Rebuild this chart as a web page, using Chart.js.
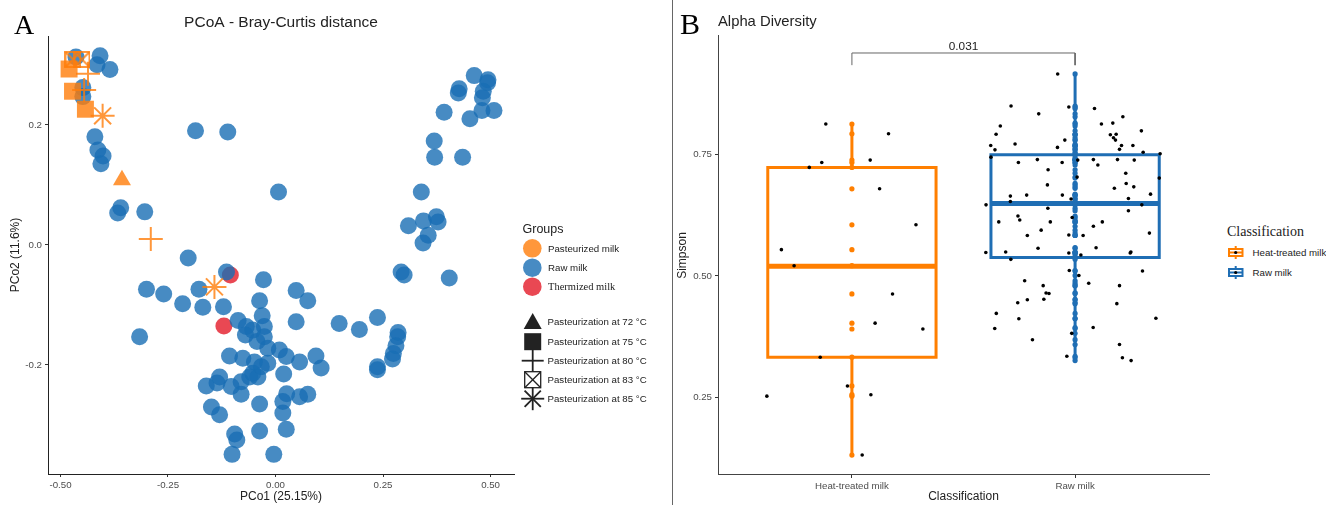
<!DOCTYPE html>
<html><head><meta charset="utf-8">
<script src="https://cdn.jsdelivr.net/npm/chart.js@4.4.1/dist/chart.umd.min.js"></script>
<style>
body{margin:0;width:1326px;height:505px;background:#fff;position:relative;overflow:hidden;font-family:"Liberation Sans",Arial,sans-serif;}
canvas{position:absolute;top:0;}
#cA{left:0;}
#cB{left:673px;}
.t{position:absolute;white-space:nowrap;color:#222;}
.s9{font-size:9.7px;line-height:11px;color:#222;}
.serif{font-family:"Liberation Serif","Times New Roman",serif;}
</style></head><body>
<canvas id="cA" width="528" height="505"></canvas>
<canvas id="cB" width="545" height="505"></canvas>
<div style="position:absolute;left:672px;top:0;width:1px;height:505px;background:#666"></div>
<div class="t serif" style="left:14px;top:9px;font-size:28px;line-height:32px;color:#000">A</div>
<div class="t serif" style="left:680px;top:7px;font-size:30px;line-height:34px;color:#000">B</div>

<!-- Panel A legend -->
<svg style="position:absolute;left:510px;top:215px" width="170" height="200">
  <circle cx="22.3" cy="33.3" r="9.3" fill="rgba(255,125,10,0.8)"/>
  <circle cx="22.3" cy="52.7" r="9.3" fill="rgba(25,110,180,0.8)"/>
  <circle cx="22.3" cy="71.7" r="9.3" fill="rgba(228,26,40,0.8)"/>
  <polygon points="22.7,98 13.7,114 31.7,114" fill="#222"/>
  <rect x="14.2" y="118.2" width="17" height="17" fill="#222"/>
  <g stroke="#222" stroke-width="1.8"><line x1="11.7" y1="145.7" x2="33.7" y2="145.7"/><line x1="22.7" y1="134.7" x2="22.7" y2="156.7"/></g>
  <g stroke="#222" stroke-width="1.3" fill="none"><rect x="14.7" y="156.7" width="16" height="16"/><line x1="14.7" y1="156.7" x2="30.7" y2="172.7"/><line x1="30.7" y1="156.7" x2="14.7" y2="172.7"/></g>
  <g stroke="#222" stroke-width="1.8"><line x1="11.2" y1="183.7" x2="34.2" y2="183.7"/><line x1="22.7" y1="172.2" x2="22.7" y2="195.2"/><line x1="14.6" y1="175.6" x2="30.8" y2="191.8"/><line x1="30.8" y1="175.6" x2="14.6" y2="191.8"/></g>
</svg>
<div class="t" style="left:522.5px;top:222px;font-size:12.5px;line-height:14px">Groups</div>
<div class="t s9" style="left:548px;top:242.5px">Pasteurized milk</div>
<div class="t s9" style="left:548px;top:262px">Raw milk</div>
<div class="t serif" style="left:548px;top:280.5px;font-size:10.5px;line-height:12px">Thermized milk</div>
<div class="t s9" style="left:547.5px;top:316px">Pasteurization at 72 °C</div>
<div class="t s9" style="left:547.5px;top:336px">Pasteurization at 75 °C</div>
<div class="t s9" style="left:547.5px;top:355px">Pasteurization at 80 °C</div>
<div class="t s9" style="left:547.5px;top:374px">Pasteurization at 83 °C</div>
<div class="t s9" style="left:547.5px;top:393px">Pasteurization at 85 °C</div>

<!-- Panel B legend -->
<svg style="position:absolute;left:1220px;top:240px" width="30" height="45">
  <g stroke="#FF7F00" stroke-width="2" fill="#fff">
    <line x1="15.7" y1="6" x2="15.7" y2="19"/>
    <rect x="9" y="9" width="13.5" height="7"/>
    <line x1="9" y1="12.5" x2="22.5" y2="12.5"/>
  </g>
  <circle cx="15.7" cy="12.5" r="1.6" fill="#000"/>
  <g stroke="#1F6EB4" stroke-width="2" fill="#fff">
    <line x1="15.7" y1="26" x2="15.7" y2="39"/>
    <rect x="9" y="29" width="13.5" height="7"/>
    <line x1="9" y1="32.5" x2="22.5" y2="32.5"/>
  </g>
  <circle cx="15.7" cy="32.5" r="1.6" fill="#000"/>
</svg>
<div class="t serif" style="left:1227px;top:224px;font-size:14px;line-height:16px">Classification</div>
<div class="t s9" style="left:1252.5px;top:247px">Heat-treated milk</div>
<div class="t s9" style="left:1252.5px;top:267px">Raw milk</div>

<script>
// ---------- Panel A data (PCoA coordinates) ----------
const rawMilkX = [
 -0.464,-0.408,-0.415,-0.385,-0.448,-0.448,-0.420,-0.413,-0.401,-0.406,
 -0.367,-0.360,-0.304,-0.186,-0.111,0.007,-0.203,-0.114,-0.028,-0.300,
 -0.260,-0.178,-0.216,-0.169,-0.121,-0.037,0.048,0.075,0.148,-0.316,
 -0.031,-0.087,0.048,-0.068,-0.053,-0.026,-0.070,-0.026,-0.043,-0.018,
 0.009,-0.107,-0.076,0.025,0.056,0.094,0.106,-0.049,-0.033,-0.018,
 -0.053,-0.060,-0.041,0.019,-0.130,-0.136,-0.161,-0.103,-0.080,-0.080,
 0.026,0.017,0.056,0.075,-0.037,-0.149,-0.130,0.017,-0.095,-0.090,
 -0.037,0.025,-0.101,-0.004,
 0.237,0.195,0.285,0.284,0.280,0.274,0.272,0.237,0.237,0.292,
 0.299,0.404,0.309,0.344,0.374,0.378,0.355,0.343,0.339,0.369,
 0.370,0.435,0.392,0.452,0.480,0.508,0.481,0.427,0.425,0.462,
 0.493,0.483,0.494];
const rawMilkY = [
 0.313,0.315,0.300,0.292,0.262,0.247,0.180,0.158,0.148,0.135,
 0.053,0.062,0.055,0.190,0.188,0.088,-0.022,-0.045,-0.058,-0.074,
 -0.082,-0.074,-0.098,-0.104,-0.103,-0.093,-0.076,-0.093,-0.131,-0.153,
 -0.118,-0.126,-0.128,-0.136,-0.142,-0.136,-0.150,-0.153,-0.161,-0.172,
 -0.175,-0.185,-0.189,-0.186,-0.195,-0.185,-0.205,-0.195,-0.203,-0.197,
 -0.214,-0.220,-0.220,-0.215,-0.220,-0.230,-0.235,-0.236,-0.249,-0.228,
 -0.248,-0.261,-0.253,-0.249,-0.265,-0.270,-0.283,-0.280,-0.315,-0.325,
 -0.310,-0.307,-0.349,-0.349,
 -0.121,-0.141,-0.146,-0.153,-0.168,-0.181,-0.190,-0.203,-0.208,-0.045,
 -0.050,-0.055,0.032,0.040,0.047,0.038,0.016,0.003,0.088,0.173,
 0.146,0.146,0.221,0.210,0.224,0.224,0.245,0.260,0.253,0.282,
 0.270,0.256,0.275];
const thermizedX = [-0.105,-0.120];
const thermizedY = [-0.050,-0.135];
const past72X = [-0.357];          const past72Y = [0.108];
const past75X = [-0.480,-0.472,-0.442]; const past75Y = [0.293,0.256,0.226];
const past80X = [-0.436,-0.445,-0.290]; const past80Y = [0.285,0.258,0.010];
const past83X = [-0.471,-0.450];   const past83Y = [0.309,0.309];
const past85X = [-0.402,-0.142];   const past85Y = [0.215,-0.070];
const xTicksA = [-0.50,-0.25,0.00,0.25,0.50];
const yTicksA = [-0.2,0.0,0.2];

// ---------- Panel B data (Simpson index) ----------
const categories = ['Heat-treated milk','Raw milk'];
const heatValues = [0.812,0.792,0.738,0.733,0.723,0.679,0.605,0.554,0.521,0.463,0.403,0.391,0.333,0.274,0.253,0.256,0.132];
const heatJitter = [-0.117,0.164,0.082,-0.135,-0.191,0.124,0.287,-0.316,-0.259,0.182,0.104,0.318,-0.142,-0.020,-0.381,0.085,0.046];
const rawValues = [
 0.915,0.849,0.847,0.844,0.833,0.827,0.812,0.814,0.808,0.798,
 0.791,0.790,0.791,0.784,0.779,0.779,0.771,0.768,0.768,0.768,
 0.764,0.759,0.760,0.754,0.751,0.744,0.739,0.738,0.739,0.739,
 0.738,0.733,0.733,0.728,0.718,0.711,0.703,0.701,0.690,0.687,
 0.683,0.680,0.668,0.664,0.666,0.666,0.659,0.653,0.658,0.646,
 0.646,0.639,0.634,0.623,0.615,0.611,0.611,0.620,0.611,0.602,
 0.594,0.588,0.583,0.584,0.583,0.557,0.558,0.548,0.549,0.547,
 0.543,0.547,0.549,0.534,0.511,0.501,0.510,0.490,0.485,0.480,
 0.480,0.465,0.464,0.451,0.452,0.445,0.443,0.423,0.412,0.413,
 0.392,0.394,0.382,0.369,0.359,0.335,0.332,0.326];
const rawJitter = [
 -0.078,-0.287,-0.028,0.087,-0.163,0.214,0.118,0.169,-0.335,0.297,
 -0.354,0.158,0.184,0.172,0.181,-0.046,-0.269,-0.378,0.208,0.259,
 -0.079,-0.359,0.199,0.305,0.381,-0.377,-0.169,0.012,0.082,0.190,
 0.265,-0.254,-0.058,0.102,-0.121,0.227,0.009,0.377,0.229,-0.124,
 0.263,0.176,0.338,-0.290,-0.217,-0.057,0.239,-0.290,-0.018,-0.399,
 0.299,-0.122,0.239,-0.256,-0.248,-0.342,-0.111,-0.013,0.122,0.082,
 -0.152,0.333,-0.214,-0.028,0.036,-0.166,0.094,-0.400,-0.311,-0.028,
 0.026,0.247,0.250,-0.288,-0.026,0.017,0.302,-0.226,0.061,-0.143,
 0.199,-0.130,-0.117,-0.214,-0.140,-0.257,0.187,-0.353,-0.252,0.362,
 -0.360,0.081,-0.015,-0.191,0.199,-0.037,0.212,0.251];
const boxQ1 = [0.333,0.538];
const boxMedian = [0.520,0.649];
const boxQ3 = [0.723,0.749];
const whiskerLow = [0.132,0.325];
const whiskerHigh = [0.812,0.915];
const yTicksB = [0.25,0.50,0.75];
const pValueLabel = '0.031';
const bracketTop = 0.958, bracketBottom = 0.933;

// ---------- styling ----------
Chart.defaults.font.family = "'Liberation Sans', Arial, sans-serif";
Chart.defaults.animation = false;
const ORANGE_A = 'rgba(255,125,10,0.8)';
const BLUE_A = 'rgba(25,110,180,0.8)';
const RED_A = 'rgba(228,26,40,0.8)';
const ORANGE_B = '#FF7F00';
const BLUE_B = '#1F6EB4';
const zip = (xs, ys) => xs.map((x, i) => ({x, y: ys[i]}));

function makeBoxX(color, size, lw) {
  const c = document.createElement('canvas'); c.width = size; c.height = size;
  const g = c.getContext('2d'); g.strokeStyle = color; g.lineWidth = lw;
  const h = lw / 2;
  g.strokeRect(h, h, size - lw, size - lw);
  g.beginPath(); g.moveTo(h, h); g.lineTo(size - h, size - h); g.moveTo(size - h, h); g.lineTo(h, size - h); g.stroke();
  return c;
}

function axisCommon(tickVals, fmt, fix) {
  return {
    type: 'linear', bounds: 'data',
    afterBuildTicks: s => { s.ticks = tickVals.map(v => ({value: v})); },
    ticks: {callback: fmt, font: {size: 9.7}, color: '#4d4d4d', maxRotation: 0, autoSkip: false},
    grid: {drawOnChartArea: false, drawTicks: true, tickLength: 3, color: '#333', lineWidth: 1},
    border: {display: true, color: '#222', width: 1},
    afterFit: fix
  };
}

// ---------- Panel A ----------
const axA_x = axisCommon(xTicksA, v => v.toFixed(2), s => { s.height = 31; });
Object.assign(axA_x, {min: -0.529, max: 0.5545,
  title: {display: true, text: 'PCo1 (25.15%)', font: {size: 12}, color: '#222', padding: {top: 0, bottom: 0.8}}});
axA_x.ticks.padding = 2.2;
const axA_y = axisCommon(yTicksA, v => v.toFixed(1), s => { s.width = 48; });
Object.assign(axA_y, {min: -0.3817, max: 0.348,
  title: {display: true, text: 'PCo2 (11.6%)', font: {size: 12}, color: '#222', padding: {top: 8.8, bottom: 0}}});
axA_y.ticks.padding = 3;

new Chart(document.getElementById('cA'), {
  type: 'scatter',
  data: {datasets: [
    {label: 'Pasteurization at 72 °C', data: zip(past72X, past72Y), pointStyle: 'triangle', pointRadius: 10.4, backgroundColor: ORANGE_A, borderWidth: 0, order: 0},
    {label: 'Pasteurization at 75 °C', data: zip(past75X, past75Y), pointStyle: 'rect', pointRadius: 12, backgroundColor: ORANGE_A, borderWidth: 0, order: 1},
    {label: 'Pasteurization at 80 °C', data: zip(past80X, past80Y), pointStyle: 'cross', pointRadius: 12, borderColor: ORANGE_A, backgroundColor: ORANGE_A, borderWidth: 2, order: 0},
    {label: 'Pasteurization at 83 °C', data: zip(past83X, past83Y), pointStyle: makeBoxX(ORANGE_A, 17, 2), pointRadius: 8.5, order: 1},
    {label: 'Pasteurization at 85 °C', data: zip(past85X, past85Y), pointStyle: 'star', pointRadius: 12, borderColor: ORANGE_A, backgroundColor: ORANGE_A, borderWidth: 2, order: 0},
    {label: 'Raw milk', data: zip(rawMilkX, rawMilkY), pointStyle: 'circle', pointRadius: 8.5, backgroundColor: BLUE_A, borderWidth: 0, order: 3},
    {label: 'Thermized milk', data: zip(thermizedX, thermizedY), pointStyle: 'circle', pointRadius: 8.5, backgroundColor: RED_A, borderWidth: 0, order: 4}
  ]},
  options: {
    responsive: false, animation: false, events: [],
    layout: {padding: {left: 0, right: 5, top: 0, bottom: 0}},
    plugins: {
      legend: {display: false}, tooltip: {enabled: false},
      title: {display: true, text: 'PCoA - Bray-Curtis distance', fullSize: false, font: {size: 15.5, weight: 'normal'}, color: '#222', padding: {top: 13, bottom: 4.4}}
    },
    scales: {x: axA_x, y: axA_y}
  }
});

// ---------- Panel B ----------
const colorsB = [ORANGE_B, BLUE_B];
const halfBox = 0.377;
const dsB = [];
const catValues = [heatValues, rawValues];
const catJitter = [heatJitter, rawJitter];
categories.forEach((name, i) => {
  const c = i + 1, col = colorsB[i];
  dsB.push({label: name + ' jitter', data: catValues[i].map((v, k) => ({x: c + catJitter[i][k], y: v})),
    pointRadius: 1.8, backgroundColor: '#000', borderWidth: 0, order: 0});
  dsB.push({label: name + ' points', data: catValues[i].map(v => ({x: c, y: v})),
    pointRadius: 2.6, backgroundColor: col, borderWidth: 0, order: 1});
  dsB.push({label: name + ' box', showLine: true, pointRadius: 0, borderColor: col, borderWidth: 3, borderCapStyle: 'square', borderJoinStyle: 'miter', order: 2,
    data: [{x: c - halfBox, y: boxQ1[i]}, {x: c + halfBox, y: boxQ1[i]}, {x: c + halfBox, y: boxQ3[i]}, {x: c - halfBox, y: boxQ3[i]}, {x: c - halfBox, y: boxQ1[i]}]});
  dsB.push({label: name + ' median', showLine: true, pointRadius: 0, borderColor: col, borderWidth: 5, borderCapStyle: 'butt', order: 2,
    data: [{x: c - halfBox, y: boxMedian[i]}, {x: c + halfBox, y: boxMedian[i]}]});
  dsB.push({label: name + ' upper whisker', showLine: true, pointRadius: 0, borderColor: col, borderWidth: 3, borderCapStyle: 'butt', order: 2,
    data: [{x: c, y: boxQ3[i]}, {x: c, y: whiskerHigh[i]}]});
  dsB.push({label: name + ' lower whisker', showLine: true, pointRadius: 0, borderColor: col, borderWidth: 3, borderCapStyle: 'butt', order: 2,
    data: [{x: c, y: boxQ1[i]}, {x: c, y: whiskerLow[i]}]});
});
dsB.push({label: 'bracket', showLine: true, pointRadius: 0, borderColor: '#666', borderWidth: 1, order: 3,
  data: [{x: 1, y: bracketBottom}, {x: 1, y: bracketTop}, {x: 2, y: bracketTop}, {x: 2, y: bracketBottom}]});

const pLabelPlugin = {
  id: 'plabel',
  afterDatasetsDraw(chart) {
    const {ctx, scales: {x, y}} = chart;
    ctx.save();
    ctx.font = "11.8px 'Liberation Sans', Arial, sans-serif";
    ctx.fillStyle = '#222'; ctx.textAlign = 'center'; ctx.textBaseline = 'alphabetic';
    ctx.fillText(pValueLabel, x.getPixelForValue(1.5), y.getPixelForValue(bracketTop) - 3);
    ctx.restore();
  }
};

const axB_x = axisCommon([1, 2], v => categories[Math.round(v) - 1], s => { s.height = 30; });
Object.assign(axB_x, {min: 0.4, max: 2.6,
  title: {display: true, text: 'Classification', font: {size: 12}, color: '#222', padding: {top: 0, bottom: 1.5}}});
axB_x.ticks.padding = 2.2;
axB_x.border.color = '#444';
const axB_y = axisCommon(yTicksB, v => v.toFixed(2), s => { s.width = 45; });
Object.assign(axB_y, {min: 0.091, max: 0.993,
  title: {display: true, text: 'Simpson', font: {size: 12}, color: '#222', padding: {top: 2.8, bottom: 0}}});
axB_y.border.color = '#444';

new Chart(document.getElementById('cB'), {
  type: 'scatter',
  data: {datasets: dsB},
  plugins: [pLabelPlugin],
  options: {
    responsive: false, animation: false, events: [],
    layout: {padding: {left: 0, right: 9, top: 0, bottom: 0}},
    plugins: {
      legend: {display: false}, tooltip: {enabled: false},
      title: {display: true, text: 'Alpha Diversity', align: 'start', fullSize: false, font: {size: 14.8, weight: 'normal'}, color: '#222', padding: {top: 13, bottom: 5.2}}
    },
    scales: {x: axB_x, y: axB_y}
  }
});
</script>
</body></html>
